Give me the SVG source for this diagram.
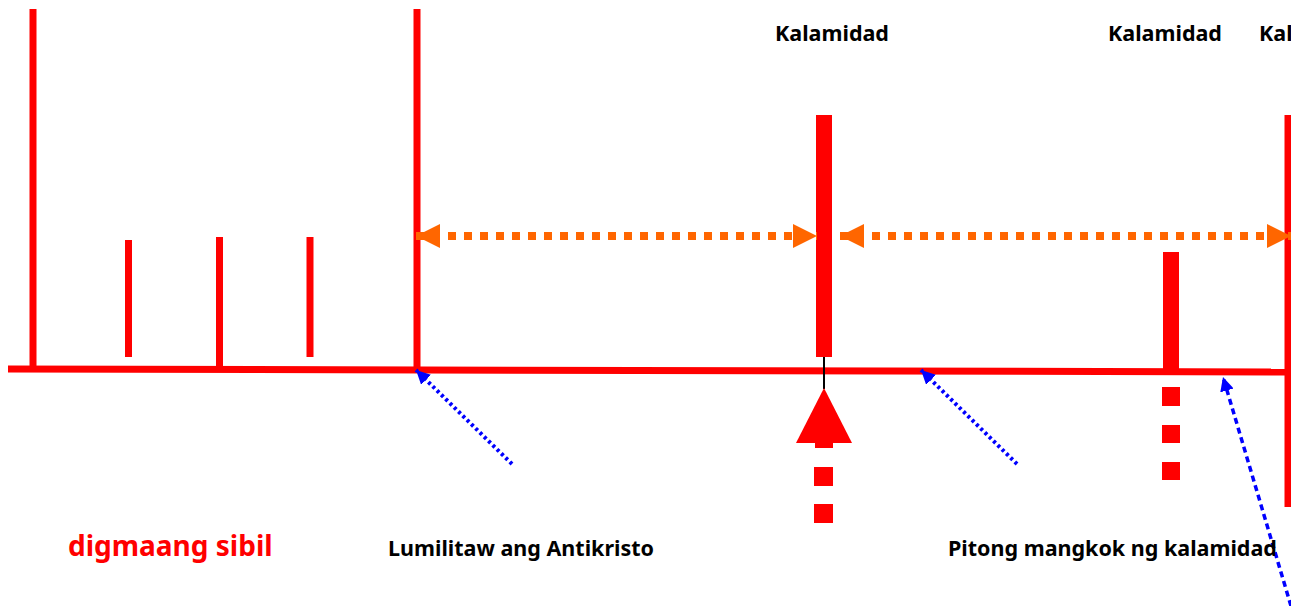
<svg xmlns="http://www.w3.org/2000/svg" width="1291" height="606" viewBox="0 0 1291 606">
<style>
.red{stroke:#ff0000;fill:none}
.thin{stroke-width:7}
.thick{stroke-width:16}
.orange{stroke:#ff6600;stroke-width:8;stroke-dasharray:8 8;fill:none}
.blue{stroke:#0000ff;stroke-width:4;stroke-dasharray:3 3;fill:none}
.blue2{stroke:#0000ff;stroke-width:3.5;stroke-dasharray:6 4;fill:none}
.lbl{font-family:"Noto Sans","Open Sans",sans-serif;font-weight:bold;font-size:21.5px;fill:#000}
.big{font-family:"Noto Sans","Open Sans",sans-serif;font-weight:bold;font-size:28px;fill:#ff0000}
</style>
<defs>
<marker id="oh" markerUnits="userSpaceOnUse" markerWidth="24" markerHeight="24" refX="24" refY="12" orient="auto-start-reverse"><path d="M0,0 L24,12 L0,24 z" fill="#ff6600"/></marker>
<marker id="bh" markerUnits="userSpaceOnUse" markerWidth="14" markerHeight="14" refX="14" refY="7" orient="auto"><path d="M0,0 L14,7 L0,14 z" fill="#0000ff"/></marker>
</defs>
<g id="timeline">
<line class="red thin" x1="8" y1="369" x2="1291" y2="372"/>
<line class="red thin" x1="33" y1="9" x2="33" y2="369"/>
<line class="red thin" x1="417" y1="9" x2="417" y2="369"/>
<line class="red thin" x1="128.5" y1="240" x2="128.5" y2="357"/>
<line class="red thin" x1="219.5" y1="237" x2="219.5" y2="369"/>
<line class="red thin" x1="310" y1="237" x2="310" y2="357"/>
<line class="red thick" x1="824" y1="115" x2="824" y2="357"/>
<line class="red thick" x1="1171" y1="252" x2="1171" y2="372"/>
<line class="red thin" x1="1288" y1="115" x2="1288" y2="507"/>
</g>
<g id="markers">
<line x1="824" y1="357" x2="824" y2="389" stroke="#000" stroke-width="2"/>
<polygon points="824,388 852,443 796,443" fill="#ff0000"/>
<rect x="815" y="442" width="18" height="6" fill="#ff0000"/>
<rect x="814" y="467" width="19" height="19" fill="#ff0000"/>
<rect x="814" y="504" width="19" height="19" fill="#ff0000"/>
<rect x="1162" y="387" width="18" height="19" fill="#ff0000"/>
<rect x="1162" y="425" width="18" height="18" fill="#ff0000"/>
<rect x="1162" y="462" width="18" height="18" fill="#ff0000"/>
</g>
<g id="connectors">
<line class="orange" x1="416" y1="236" x2="817" y2="236" marker-start="url(#oh)" marker-end="url(#oh)"/>
<line class="orange" x1="840" y1="236" x2="1291" y2="236" marker-start="url(#oh)" marker-end="url(#oh)"/>
<line class="blue" x1="512" y1="464" x2="416" y2="370" marker-end="url(#bh)"/>
<line class="blue" x1="1017" y1="464" x2="921" y2="370" marker-end="url(#bh)"/>
<line class="blue2" x1="1291" y1="606" x2="1223" y2="377" marker-end="url(#bh)"/>
</g>
<g id="labels">
<text class="lbl" x="832" y="41" text-anchor="middle">Kalamidad</text>
<text class="lbl" x="1165" y="41" text-anchor="middle">Kalamidad</text>
<text class="lbl" x="1259" y="41">Kalamidad</text>
<text class="big" x="68" y="556">digmaang sibil</text>
<text class="lbl" x="388" y="556">Lumilitaw ang Antikristo</text>
<text class="lbl" x="948" y="556">Pitong mangkok ng kalamidad</text>
</g>
</svg>
